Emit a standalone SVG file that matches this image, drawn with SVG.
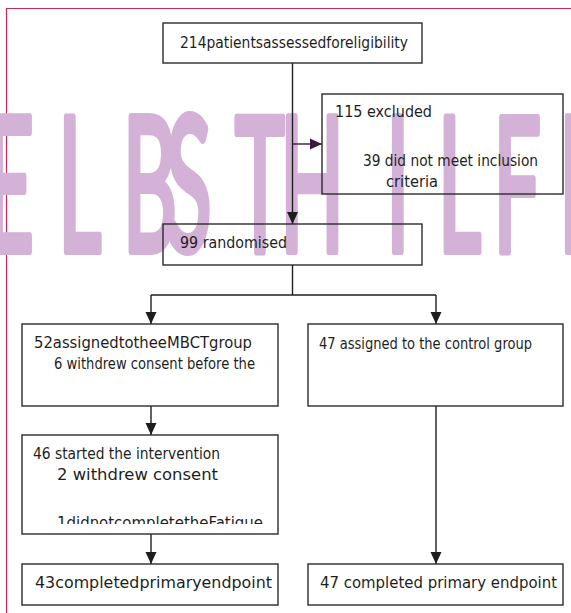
<svg xmlns="http://www.w3.org/2000/svg" width="571" height="613" viewBox="0 0 571 613">
<defs>
<style>
.box{fill:none;stroke:#2b2b2b;stroke-width:1.4}
.t{font-family:"DejaVu Sans","Liberation Sans",sans-serif;font-size:16.5px;fill:#1e1e1e}
.c{fill:none;stroke:#1e1e1e;stroke-width:1.4}
.wm{font-family:Lato,"DejaVu Sans",sans-serif;font-size:187px;fill:#d4b1d6;stroke:#d4b1d6;stroke-width:8;stroke-linejoin:round;stroke-linecap:round}
</style>
<marker id="ah" markerUnits="userSpaceOnUse" markerWidth="12" markerHeight="14" viewBox="0 0 12 14" refX="12" refY="7" orient="auto">
<path d="M0,1.5 L12,7 L0,12.5 Z" fill="#1e1e1e"/>
</marker>
<marker id="ahp" markerUnits="userSpaceOnUse" markerWidth="12" markerHeight="14" viewBox="0 0 12 14" refX="12" refY="7" orient="auto">
<path d="M0,1.5 L12,7 L0,12.5 Z" fill="#3a1a3c"/>
</marker>
<clipPath id="clipStarted"><rect x="22" y="435" width="256" height="89"/></clipPath>
</defs>
<rect x="0" y="0" width="571" height="613" fill="#ffffff"/>
<g id="frame" fill="none" stroke="#c42a5a" stroke-width="1.2">
<path d="M6.5,613 V8.5 H571"/>
</g>
<g id="watermark">
<text class="wm" transform="scale(0.45,1)" y="251" x="-33 129 273 369 522 622 858 973 1096 1242">ELBSTHILFE</text>
</g>
<g id="connectors">
<path class="c" d="M292.5,63 V224" marker-end="url(#ah)"/>
<path d="M292.5,144 H322" fill="none" stroke="#3a1a3c" stroke-width="1.4" marker-end="url(#ahp)"/>
<path class="c" d="M292.5,265 V295"/>
<path class="c" d="M151,295 H436"/>
<path class="c" d="M151,295 V324" marker-end="url(#ah)"/>
<path class="c" d="M436,295 V324" marker-end="url(#ah)"/>
<path class="c" d="M151,406 V435" marker-end="url(#ah)"/>
<path class="c" d="M151,534 V564" marker-end="url(#ah)"/>
<path class="c" d="M436,406 V564" marker-end="url(#ah)"/>
</g>
<g id="assessed">
<rect class="box" x="163" y="23" width="259" height="40"/>
<text class="t" x="180" y="48" textLength="228" lengthAdjust="spacingAndGlyphs">214patientsassessedforeligibility</text>
</g>
<g id="excluded">
<rect class="box" x="322" y="94" width="241" height="100"/>
<text class="t" x="335" y="117" textLength="97" lengthAdjust="spacingAndGlyphs">115 excluded</text>
<text class="t" x="363" y="166" textLength="175" lengthAdjust="spacingAndGlyphs">39 did not meet inclusion</text>
<text class="t" x="386" y="187" textLength="52" lengthAdjust="spacingAndGlyphs">criteria</text>
</g>
<g id="randomised">
<rect class="box" x="163" y="224" width="259" height="41"/>
<text class="t" x="180" y="248" textLength="107" lengthAdjust="spacingAndGlyphs">99 randomised</text>
</g>
<g id="embct">
<rect class="box" x="22" y="324" width="256" height="82"/>
<text class="t" x="34" y="348" textLength="218" lengthAdjust="spacingAndGlyphs">52assignedtotheeMBCTgroup</text>
<text class="t" x="54" y="369" textLength="201" lengthAdjust="spacingAndGlyphs">6 withdrew consent before the</text>
</g>
<g id="control">
<rect class="box" x="308" y="324" width="255" height="82"/>
<text class="t" x="319" y="349" textLength="213" lengthAdjust="spacingAndGlyphs">47 assigned to the control group</text>
</g>
<g id="started">
<rect class="box" x="22" y="435" width="256" height="99"/>
<text class="t" x="33" y="459" textLength="187" lengthAdjust="spacingAndGlyphs">46 started the intervention</text>
<text class="t" x="57" y="480" textLength="161" lengthAdjust="spacingAndGlyphs">2 withdrew consent</text>
<text class="t" x="57" y="528" textLength="206" lengthAdjust="spacingAndGlyphs" clip-path="url(#clipStarted)">1didnotcompletetheFatigue</text>
</g>
<g id="completedEMBCT">
<rect class="box" x="22" y="564" width="256" height="41"/>
<text class="t" x="35" y="588" textLength="237" lengthAdjust="spacingAndGlyphs">43completedprimaryendpoint</text>
</g>
<g id="completedControl">
<rect class="box" x="308" y="564" width="255" height="41"/>
<text class="t" x="320" y="588" textLength="237" lengthAdjust="spacingAndGlyphs">47 completed primary endpoint</text>
</g>
</svg>
